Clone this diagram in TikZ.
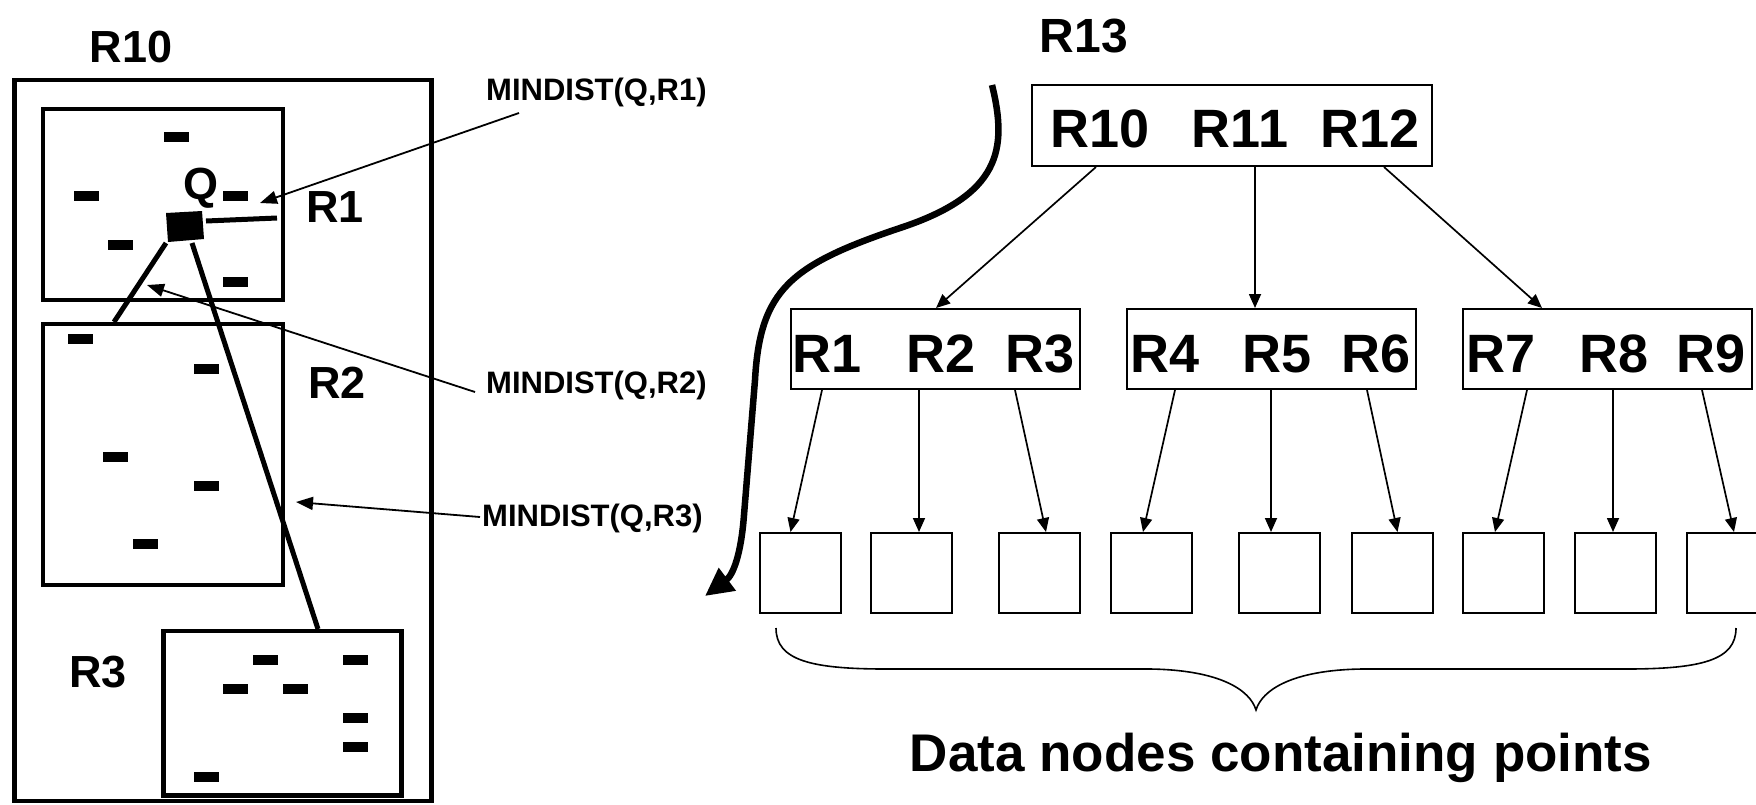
\documentclass[tikz,border=0pt]{standalone}
\usepackage{fontspec}
\setmainfont{Liberation Sans}
\usetikzlibrary{arrows.meta,calc}
\newcommand\datapt[2]{\fill (#1-12.5,#2-5) rectangle ++(25,10);}
\begin{document}
\begin{tikzpicture}[x=1pt,y=-1pt,
  region/.style={draw, line width=4.5pt},
  qline/.style={line width=5pt},
  lbl/.style={font=\bfseries\fontsize{45}{50}\selectfont, inner sep=0pt, anchor=base},
  mlbl/.style={font=\bfseries\fontsize{31}{36}\selectfont, inner sep=0pt, anchor=base west},
  tlbl/.style={font=\bfseries\fontsize{54}{60}\selectfont, inner sep=0pt, anchor=base},
  tbox/.style={draw, line width=2pt, rectangle, inner sep=0pt, minimum height=80pt},
  leafbox/.style={draw, line width=2pt, rectangle, inner sep=0pt, minimum width=81pt, minimum height=80pt},
  tarrow/.style={line width=1.7pt, -{Triangle[length=14pt,width=12pt]}},
  marrow/.style={line width=1.8pt, -{Triangle[length=17pt,width=13pt]}},
  bigarrow/.style={line width=6.5pt, -{Triangle[length=28pt,width=27pt]}}
]
\useasboundingbox (0,0) rectangle (1756,804);

% ---------- left: spatial regions ----------
\draw[region] (14.5,80) rectangle (431.5,801);
\draw[region] (43,109) rectangle (283,300);
\draw[region] (43,324) rectangle (283,585);
\draw[region] (163.5,631) rectangle (401.5,795.5);

\node[lbl] (lR10) at (131,62) {R10};
\node[lbl] (lR1) at (335,222) {R1};
\node[lbl] (lR2) at (337,398) {R2};
\node[lbl] (lR3) at (98,687) {R3};
\node[lbl] (lQ) at (201,199) {Q};

% data points
\datapt{176}{137}
\datapt{86}{196}
\datapt{235}{196}
\datapt{120}{245}
\datapt{235}{282}
\datapt{80}{339}
\datapt{206}{369}
\datapt{115}{457}
\datapt{206}{486}
\datapt{145}{544}
\datapt{265}{660}
\datapt{355}{660}
\datapt{235}{689}
\datapt{295}{689}
\datapt{355}{718}
\datapt{355}{747}
\datapt{206}{777}

% query point
\fill (166,213) -- (202,211) -- (204,239) -- (168,242) -- cycle;
\coordinate (q1) at (206,221);
\coordinate (q2) at (166,243);
\coordinate (q3) at (192,243);
\coordinate (e1) at (277,218);
\coordinate (e2) at (114,322);
\coordinate (e3) at (318,629);
\draw[qline] (q1) -- (e1);
\draw[qline] (q2) -- (e2);
\draw[qline] (q3) -- (e3);

% MINDIST labels and arrows
\node[mlbl] (m1) at (486,100) {MINDIST(Q,R1)};
\node[mlbl] (m2) at (486,393) {MINDIST(Q,R2)};
\node[mlbl] (m3) at (482,526) {MINDIST(Q,R3)};
\coordinate (m1s) at (519,113);
\coordinate (m1t) at (260,203);
\coordinate (m2s) at (475,392);
\coordinate (m2t) at (147,285);
\coordinate (m3s) at (480,517);
\coordinate (m3t) at (296,502);
\draw[marrow] (m1s) -- (m1t);
\draw[marrow] (m2s) -- (m2t);
\draw[marrow] (m3s) -- (m3t);

% ---------- right: tree ----------
\node[lbl, font=\bfseries\fontsize{48}{54}\selectfont] (lR13) at (1084,52) {R13};

\node[tbox, minimum width=400pt, minimum height=81pt] (top) at (1232,125.5) {};
\node[tlbl] (t10) at (1100,147) {R10};
\node[tlbl] (t11) at (1240,147) {R11};
\node[tlbl] (t12) at (1370,147) {R12};

\node[tbox, minimum width=289pt] (n1) at (935.5,349) {};
\node[tbox, minimum width=289pt] (n2) at (1271.5,349) {};
\node[tbox, minimum width=289pt] (n3) at (1607.5,349) {};
\node[tlbl] (tR1) at (827,372) {R1};
\node[tlbl] (tR2) at (941,372) {R2};
\node[tlbl] (tR3) at (1040,372) {R3};
\node[tlbl] (tR4) at (1165,372) {R4};
\node[tlbl] (tR5) at (1277,372) {R5};
\node[tlbl] (tR6) at (1376,372) {R6};
\node[tlbl] (tR7) at (1501,372) {R7};
\node[tlbl] (tR8) at (1614,372) {R8};
\node[tlbl] (tR9) at (1711,372) {R9};

\draw[tarrow] ($(top.south west)+(65,0)$) -- ($(n1.north west)+(146,0)$);
\draw[tarrow] ($(top.south west)+(224,0)$) -- ($(n2.north west)+(129,0)$);
\draw[tarrow] ($(top.south west)+(353,0)$) -- ($(n3.north west)+(80,0)$);

\node[leafbox] (l1) at (800,573) {};
\node[leafbox] (l2) at (911.5,573) {};
\node[leafbox] (l3) at (1039.5,573) {};
\node[leafbox] (l4) at (1151.5,573) {};
\node[leafbox] (l5) at (1279.5,573) {};
\node[leafbox] (l6) at (1392,573) {};
\node[leafbox] (l7) at (1503.5,573) {};
\node[leafbox] (l8) at (1615.5,573) {};
\node[leafbox] (l9) at (1727.5,573) {};

\draw[tarrow] ($(n1.south west)+(32,0)$) -- ($(l1.north west)+(32,0)$);
\draw[tarrow] ($(n1.south west)+(129,0)$) -- ($(l2.north west)+(49,0)$);
\draw[tarrow] ($(n1.south west)+(225,0)$) -- ($(l3.north west)+(48,0)$);
\draw[tarrow] ($(n2.south west)+(49,0)$) -- ($(l4.north west)+(33,0)$);
\draw[tarrow] ($(n2.south west)+(145,0)$) -- ($(l5.north west)+(33,0)$);
\draw[tarrow] ($(n2.south west)+(241,0)$) -- ($(l6.north west)+(47,0)$);
\draw[tarrow] ($(n3.south west)+(65,0)$) -- ($(l7.north west)+(33,0)$);
\draw[tarrow] ($(n3.south west)+(151,0)$) -- ($(l8.north west)+(39,0)$);
\draw[tarrow] ($(n3.south west)+(240,0)$) -- ($(l9.north west)+(48,0)$);

% curved traversal arrow
\coordinate (cs) at (992,85);
\coordinate (ce) at (705,596);
\draw[bigarrow] (cs) .. controls (1008,150) and (1000,195) .. (900,228)
  .. controls (790,265) and (760,290) .. (755,380)
  -- (744,515) .. controls (741,555) and (733,575) .. (ce);

% brace
\coordinate (bl) at (776,628);
\coordinate (bt) at (1256,710);
\coordinate (br) at (1736,628);
\draw[line width=1.6pt] (bl) .. controls (776,660) and (810,669) .. (886,669)
  -- (1150,669) .. controls (1220,670) and (1250,690) .. (bt)
  .. controls (1262,690) and (1292,670) .. (1362,669)
  -- (1626,669) .. controls (1702,669) and (1736,660) .. (br);

\node[lbl, font=\bfseries\fontsize{53}{60}\selectfont] (dn) at (1281,771) {Data nodes containing points};
\end{tikzpicture}
\end{document}
